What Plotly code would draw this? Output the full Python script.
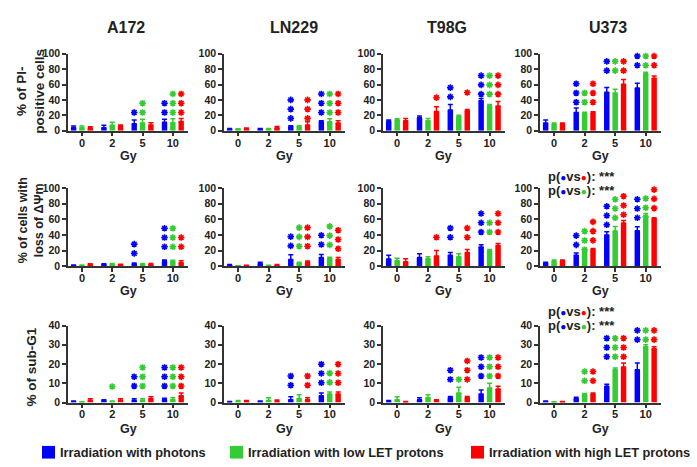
import plotly.graph_objects as go

# ---------------- data ----------------
DOSES = ["0", "2", "5", "10"]
CELL_LINES = ["A172", "LN229", "T98G", "U373"]
SERIES = ["Irradiation with photons", "Irradiation with low LET protons",
          "Irradiation with high LET protons"]

# Row 1: % of PI-positive cells  (per cell line: values at 0,2,5,10 Gy)
pi_photons = [[4, 4, 9, 11], [2, 2, 5.5, 12], [12, 17, 27, 39], [10, 23.5, 50, 55.5]]
pi_low = [[4, 7, 10, 10.5], [1.5, 2, 5, 11.5], [14, 13, 18, 32], [8.5, 22, 49, 74]]
pi_high = [[3.5, 5.5, 7.5, 12], [2.5, 3.5, 7.5, 10], [13, 25, 26, 32], [8.5, 23, 60.5, 68]]
pi_err_photons = [[2, 3, 5, 4], [1, 1, 1, 1], [2, 2, 7, 3], [4, 6, 6, 6]]
pi_err_low = [[2, 4, 5, 5], [1, 1, 1.5, 4], [1.5, 3, 2, 2], [1.5, 2, 5, 2]]
pi_err_high = [[1.5, 2, 3, 4], [1, 2, 4, 3], [3, 6, 1.5, 6], [1.5, 1.5, 6, 3]]
pi_stars_photons = [[0, 0, 1, 2], [0, 0, 3, 3], [0, 0, 2, 3], [0, 3, 3, 3]]
pi_stars_low = [[0, 0, 2, 3], [0, 0, 0, 3], [0, 0, 0, 3], [0, 2, 3, 3]]
pi_stars_high = [[0, 0, 0, 3], [0, 0, 3, 3], [0, 1, 1, 3], [0, 3, 3, 3]]
pi_starbase_photons = [[0, 0, 23.7, 23.7], [0, 0, 16, 23.7], [0, 0, 44, 47.5], [0, 37, 78, 85]]
pi_starbase_low = [[0, 0, 23.7, 23.7], [0, 0, 0, 23.7], [0, 0, 0, 47.5], [0, 37, 78, 85]]
pi_starbase_high = [[0, 0, 0, 23.7], [0, 0, 16, 23.7], [0, 43, 49.6, 47.5], [0, 37, 78, 85]]

# Row 2: % of cells with loss of ΔΨm
mmp_photons = [[1, 1.5, 3, 6], [1, 3, 8.5, 11], [9, 11, 14, 24.5], [4, 14, 40, 45.5]]
mmp_low = [[1, 1.5, 2, 6], [0.3, 0.5, 4, 10], [7, 9.5, 12, 19.5], [6, 19, 45, 59.5]]
mmp_high = [[1.5, 1.5, 2, 4.5], [0.5, 1, 5, 8.5], [5.5, 13, 17.5, 26.5], [7, 21.5, 55.5, 61]]
mmp_err_photons = [[0.5, 1.5, 1, 2], [1, 2, 6, 4], [5, 5, 3.5, 3], [1, 3, 4, 5]]
mmp_err_low = [[0.5, 2, 1, 1.5], [0.3, 0.5, 1, 1.5], [3, 2.5, 4, 2], [2, 3, 6, 8]]
mmp_err_high = [[1.5, 1, 1.5, 2.5], [0.5, 1, 1.5, 2.5], [4, 7, 4, 2.5], [1, 1, 3, 1]]
mmp_stars_photons = [[0, 0, 2, 3], [0, 0, 2, 2], [0, 0, 2, 3], [0, 2, 3, 3]]
mmp_stars_low = [[0, 0, 0, 3], [0, 0, 3, 3], [0, 0, 0, 2], [0, 3, 3, 3]]
mmp_stars_high = [[0, 0, 0, 2], [0, 0, 3, 3], [0, 1, 2, 3], [0, 3, 3, 3]]
mmp_starbase_photons = [[0, 0, 16.4, 24.8], [0, 0, 26, 27.7], [0, 0, 37, 43.7], [0, 27.3, 53, 62]]
mmp_starbase_low = [[0, 0, 0, 24.8], [0, 0, 25.6, 27.3], [0, 0, 0, 43.7], [0, 21, 62, 63]]
mmp_starbase_high = [[0, 0, 0, 24.8], [0, 0, 25.6, 22.3], [0, 37, 37, 43.7], [0, 33, 66, 74.4]]

# Row 3: % of sub-G1
sg1_photons = [[0.5, 1, 1, 1.5], [0.3, 0.5, 1.5, 3.5], [0.5, 1.5, 2.5, 4.5], [0.5, 2, 8.5, 17]]
sg1_low = [[0.2, 0.5, 1, 1.5], [0.5, 1, 2, 4.5], [1.5, 2.5, 5, 7.5], [0.2, 4, 17, 29]]
sg1_high = [[1, 1, 2, 3.5], [0.5, 0.5, 1.5, 4.5], [0.3, 0.7, 2.5, 7], [0.3, 4.5, 18.5, 28]]
sg1_err_photons = [[0.3, 0.5, 1, 0.7], [0.2, 0.3, 1.5, 1.5], [0.5, 1, 0.7, 2], [0.3, 0.7, 1, 3.5]]
sg1_err_low = [[0.2, 0.3, 1, 1], [0.5, 1.5, 2, 1], [1.5, 1.5, 3, 2.5], [0.2, 0.7, 1, 1]]
sg1_err_high = [[1, 1, 1, 1.5], [0.5, 0.8, 1, 1], [0.3, 0.8, 0.6, 1.5], [0.3, 0.4, 2, 1]]
sg1_stars_photons = [[0, 0, 2, 3], [0, 0, 2, 3], [0, 0, 2, 3], [0, 0, 3, 3]]
sg1_stars_low = [[0, 1, 3, 3], [0, 0, 0, 2], [0, 0, 1, 3], [0, 2, 3, 3]]
sg1_stars_high = [[0, 0, 0, 3], [0, 0, 2, 3], [0, 0, 3, 3], [0, 2, 3, 3]]
sg1_starbase_photons = [[0, 0, 8.6, 8.6], [0, 0, 9, 10.3], [0, 0, 12, 13.8], [0, 0, 23.8, 32.7]]
sg1_starbase_low = [[0, 8.3, 8.6, 8.6], [0, 0, 0, 10.5], [0, 0, 12, 13.8], [0, 11.3, 23.8, 32.7]]
sg1_starbase_high = [[0, 0, 0, 8.6], [0, 0, 9, 10.3], [0, 0, 12, 13.8], [0, 11.3, 23.8, 32.7]]

ROW_TITLES = ["% of PI-<br>positive cells", "% of cells with<br>loss of ΔΨm", "% of sub-G1"]
ROW_YMAX = [100, 100, 40]
ROW_DTICK = [20, 20, 10]

ROWS = [
    dict(vals=[pi_photons, pi_low, pi_high], errs=[pi_err_photons, pi_err_low, pi_err_high],
         stars=[pi_stars_photons, pi_stars_low, pi_stars_high],
         base=[pi_starbase_photons, pi_starbase_low, pi_starbase_high]),
    dict(vals=[mmp_photons, mmp_low, mmp_high], errs=[mmp_err_photons, mmp_err_low, mmp_err_high],
         stars=[mmp_stars_photons, mmp_stars_low, mmp_stars_high],
         base=[mmp_starbase_photons, mmp_starbase_low, mmp_starbase_high]),
    dict(vals=[sg1_photons, sg1_low, sg1_high], errs=[sg1_err_photons, sg1_err_low, sg1_err_high],
         stars=[sg1_stars_photons, sg1_stars_low, sg1_stars_high],
         base=[sg1_starbase_photons, sg1_starbase_low, sg1_starbase_high]),
]

# ---------------- style / layout ----------------
W, H = 697, 467
FONT = "Liberation Sans, Arial, sans-serif"
COLORS = ["#0000FF", "#33CC33", "#FF0000"]
AXIS_COLOR = "#333333"
TEXT_COLOR = "#222222"
COL_PX = [(68, 188), (224, 345), (383, 505), (540, 661)]
ROW_PX = [(49, 128), (187, 267), (328, 407)]
TITLE_X = [126, 294, 447, 608]
GY_Y = [154, 293, 434]
YTITLE_Y = [88, 220, 371]
YTITLE_X = [31, 31, 31]
YTITLE_SIZE = [13.5, 12.5, 13.5]
STAR_STEP_PX = 9.5
BAR_STEP = 0.275


def px_x(p):
    return p / W


def px_y(p):
    return 1 - p / H


fig = go.Figure()
annotations = []
layout = {}

for r in range(3):
    row = ROWS[r]
    ymax = ROW_YMAX[r]
    top, bottom = ROW_PX[r]
    star_step = STAR_STEP_PX * ymax / (bottom - top)
    for c in range(4):
        k = r * 4 + c + 1
        xa = "x" if k == 1 else f"x{k}"
        ya = "y" if k == 1 else f"y{k}"
        left, right = COL_PX[c]
        xs = list(range(len(DOSES)))
        for s in range(3):
            fig.add_trace(go.Bar(
                x=xs, y=row["vals"][s][c], name=SERIES[s], marker_color=COLORS[s],
                marker_line_width=0, showlegend=False,
                error_y=dict(type="data", array=row["errs"][s][c], symmetric=False,
                             arrayminus=[0] * len(DOSES), color=COLORS[s],
                             thickness=1.5, width=2.5),
                xaxis=xa, yaxis=ya))
            sx, sy = [], []
            for d in range(len(DOSES)):
                n = row["stars"][s][c][d]
                for j in range(n):
                    sx.append(d + (s - 1) * BAR_STEP)
                    sy.append(row["base"][s][c][d] + j * star_step)
            if sx:
                fig.add_trace(go.Scatter(
                    x=sx, y=sy, mode="markers", showlegend=False, hoverinfo="skip",
                    marker=dict(symbol="asterisk-open", size=5.5, color=COLORS[s],
                                line=dict(color=COLORS[s], width=1.6)),
                    cliponaxis=False, xaxis=xa, yaxis=ya))
        xkey = "xaxis" if k == 1 else f"xaxis{k}"
        ykey = "yaxis" if k == 1 else f"yaxis{k}"
        layout[xkey] = dict(
            domain=[px_x(left), px_x(right)], anchor=ya, range=[-0.46, 3.5],
            tickvals=xs, ticktext=DOSES, showline=True, linecolor=AXIS_COLOR,
            linewidth=1.5, ticks="outside", ticklen=4, tickwidth=1.5,
            tickcolor=AXIS_COLOR, showgrid=False, zeroline=False,
            ticklabelstandoff=-3,
            tickfont=dict(family=FONT, size=11, color=TEXT_COLOR, weight="bold"))
        layout[ykey] = dict(
            domain=[px_y(bottom), px_y(top)], anchor=xa, range=[0, ymax],
            dtick=ROW_DTICK[r], showline=True, linecolor=AXIS_COLOR,
            linewidth=1.5, ticks="outside", ticklen=4, tickwidth=1.5,
            tickcolor=AXIS_COLOR, showgrid=False, zeroline=False,
            tickfont=dict(family=FONT, size=10.5, color=TEXT_COLOR, weight="bold"))
        # "Gy" axis label
        annotations.append(dict(
            text="Gy", xref="paper", yref="paper",
            x=px_x((left + right) / 2), y=px_y(GY_Y[r]), showarrow=False,
            xanchor="center", yanchor="middle",
            font=dict(family=FONT, size=12.5, color=TEXT_COLOR, weight="bold")))
    # row y-title
    annotations.append(dict(
        text=ROW_TITLES[r], xref="paper", yref="paper", x=px_x(YTITLE_X[r]),
        y=px_y(YTITLE_Y[r]), showarrow=False, textangle=-90,
        xanchor="center", yanchor="middle",
        font=dict(family=FONT, size=YTITLE_SIZE[r], color=TEXT_COLOR, weight="bold")))

# column titles
for c, name in enumerate(CELL_LINES):
    annotations.append(dict(
        text=name, xref="paper", yref="paper", x=px_x(TITLE_X[c]), y=px_y(22),
        showarrow=False, xanchor="center", yanchor="middle",
        font=dict(family=FONT, size=16, color=TEXT_COLOR, weight="bold")))

# p-value notes in U373 panels
def dot(color):
    return f"<span style='color:{color};font-size:10px'>●</span>"

P_LINES = [
    "p(" + dot(COLORS[0]) + "vs" + dot(COLORS[2]) + "): ***",
    "p(" + dot(COLORS[0]) + "vs" + dot(COLORS[1]) + "): ***",
]
for ys in [(175, 189), (314, 328)]:
    for line, yy in zip(P_LINES, ys):
        annotations.append(dict(
            text=line, xref="paper", yref="paper", x=px_x(546), y=px_y(yy),
            showarrow=False, xanchor="left", yanchor="middle",
            font=dict(family=FONT, size=13, color=TEXT_COLOR, weight="bold")))

# legend (manual)
shapes = []
LEG_SQ_X = [42, 230, 471]
LEG_Y = 458
for s in range(3):
    shapes.append(dict(type="rect", xref="paper", yref="paper",
                       x0=px_x(LEG_SQ_X[s]), x1=px_x(LEG_SQ_X[s] + 13),
                       y0=px_y(LEG_Y + 6.5), y1=px_y(LEG_Y - 6.5),
                       fillcolor=COLORS[s], line=dict(width=0)))
    annotations.append(dict(
        text=SERIES[s], xref="paper", yref="paper", x=px_x(LEG_SQ_X[s] + 16),
        y=px_y(LEG_Y), showarrow=False, xanchor="left", yanchor="middle",
        font=dict(family=FONT, size=12.8, color=TEXT_COLOR, weight="bold")))

fig.update_layout(
    width=W, height=H, margin=dict(l=0, r=0, t=0, b=0),
    paper_bgcolor="white", plot_bgcolor="white",
    barmode="group", bargap=0.175, bargroupgap=0.35,
    showlegend=False, annotations=annotations, shapes=shapes,
    font=dict(family=FONT, color=TEXT_COLOR),
    **layout)

fig.write_html("out.html", config={"displayModeBar": False},
               post_script="document.body.style.margin='0';")
